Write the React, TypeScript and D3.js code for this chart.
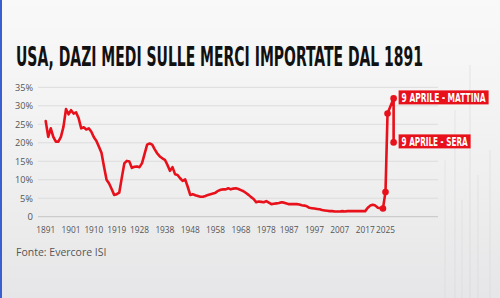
import React from "react";
import * as d3 from "d3";

const title = "USA, DAZI MEDI SULLE MERCI IMPORTATE DAL 1891";
const source = "Fonte: Evercore ISI";

const years = [
  1891, 1892, 1893, 1894, 1895, 1896, 1897, 1898, 1899, 1900,
  1901, 1902, 1903, 1904, 1905, 1906, 1907, 1908, 1909, 1910,
  1911, 1912, 1913, 1914, 1915, 1916, 1917, 1918, 1919, 1920,
  1921, 1922, 1923, 1924, 1925, 1926, 1927, 1928, 1929, 1930,
  1931, 1932, 1933, 1934, 1935, 1936, 1937, 1938, 1939, 1940,
  1941, 1942, 1943, 1944, 1945, 1946, 1947, 1948, 1949, 1950,
  1951, 1952, 1953, 1954, 1955, 1956, 1957, 1958, 1959, 1960,
  1961, 1962, 1963, 1964, 1965, 1966, 1967, 1968, 1969, 1970,
  1971, 1972, 1973, 1974, 1975, 1976, 1977, 1978, 1979, 1980,
  1981, 1982, 1983, 1984, 1985, 1986, 1987, 1988, 1989, 1990,
  1991, 1992, 1993, 1994, 1995, 1996, 1997, 1998, 1999, 2000,
  2001, 2002, 2003, 2004, 2005, 2006, 2007, 2008, 2009, 2010,
  2011, 2012, 2013, 2014, 2015, 2016, 2017, 2018, 2019, 2020,
  2021, 2022, 2023, 2024, 2025,
];
const tariffs = [
  25.9, 21.6, 23.9, 21.6, 20.3, 20.3, 21.6, 24.3, 29.1, 27.7,
  28.8, 27.9, 28.2, 26.6, 23.9, 24.2, 23.6, 23.9, 23.0, 21.5,
  20.5, 18.9, 17.3, 13.5, 10.0, 9.0, 7.5, 5.9, 6.1, 6.5,
  10.5, 14.4, 15.1, 14.9, 13.2, 13.5, 13.6, 13.4, 14.5, 17.0,
  19.5, 19.8, 19.5, 18.2, 17.1, 16.3, 15.8, 15.4, 14.0, 12.4,
  13.4, 11.5, 11.3, 10.4, 9.7, 10.1, 8.1, 5.9, 6.1, 5.8,
  5.6, 5.4, 5.4, 5.6, 5.9, 6.1, 6.3, 6.5, 7.0, 7.3,
  7.4, 7.4, 7.7, 7.4, 7.6, 7.7, 7.5, 7.2, 6.9, 6.4,
  5.9, 5.3, 4.8, 3.9, 4.1, 4.0, 3.9, 4.2, 3.8, 3.4,
  3.5, 3.6, 3.7, 3.9, 3.8, 3.6, 3.4, 3.4, 3.4, 3.4,
  3.3, 3.1, 3.0, 2.8, 2.4, 2.3, 2.2, 2.1, 2.0, 1.8,
  1.7, 1.6, 1.5, 1.5, 1.4, 1.4, 1.4, 1.5, 1.4, 1.5,
  1.5, 1.5, 1.5, 1.5, 1.5, 1.5, 1.5, 2.4, 3.0, 3.2,
  3.0, 2.4, 2.3, 2.2, 6.7,
];
// 2025 announcements (position on the time axis, tariff %)
const spikeX = [2025.8, 2028.2, 2028.2];
const spikeValues = [27.9, 32.0, 20.1];
const spikeLabels = ["", "9 APRILE - MATTINA", "9 APRILE - SERA"];

const xTickLabels = [1891, 1901, 1910, 1919, 1928, 1938, 1948, 1958, 1968, 1978, 1987, 1997, 2007, 2017, 2025];
const yTicks = [0, 5, 10, 15, 20, 25, 30, 35];

const W = 500;
const H = 298;
const RED = "#e8101a";

export default function App() {
  const x = d3.scaleLinear().domain([1891, 2025]).range([45.7, 385.5]);
  const y = d3.scaleLinear().domain([0, 35]).range([216.7, 87.3]);

  const pts: [number, number][] = years.map((yr, i) => [yr, tariffs[i]]);
  spikeX.forEach((sx, i) => pts.push([sx, spikeValues[i]]));

  const line = d3
    .line<[number, number]>()
    .x((d) => x(d[0]))
    .y((d) => y(d[1]));

  const dots = pts.slice(years.length - 2);
  const labelled = spikeX
    .map((sx, i) => ({ sx, v: spikeValues[i], label: spikeLabels[i] }))
    .filter((d) => d.label);

  const tickFont = "'Open Sans', 'Noto Sans', sans-serif";
  const condFont = "'Liberation Sans Narrow', 'DejaVu Sans Condensed', 'Roboto', sans-serif";

  const decoBars = [
    [470, 65, 0.35],
    [455, 110, 0.3],
    [490, 150, 0.3],
    [445, 160, 0.25],
    [478, 175, 0.3],
    [462, 200, 0.25],
  ];

  return (
    <svg
      width={W}
      height={H}
      style={{ position: "absolute", left: 0, top: 0, display: "block" }}
    >
      <defs>
        <linearGradient id="bg" x1="0" y1="0" x2="0" y2="1">
          <stop offset="0" stopColor="#f9f9f9" />
          <stop offset="0.6" stopColor="#efefef" />
          <stop offset="1" stopColor="#e6e6e8" />
        </linearGradient>
      </defs>
      <rect x={0} y={0} width={W} height={H} fill="url(#bg)" />
      {decoBars.map((b, i) => (
        <line
          key={i}
          x1={b[0]}
          x2={b[0]}
          y1={b[1]}
          y2={H}
          stroke="#c9ced6"
          strokeWidth={1.2}
          opacity={b[2]}
        />
      ))}
      <rect x={0} y={0} width={2} height={H} fill="#3b5fd0" />

      <text
        x={16}
        y={66}
        fontFamily={condFont}
        fontWeight="bold"
        fontSize={26}
        fill="#111"
        textLength={407}
        lengthAdjust="spacingAndGlyphs"
      >
        {title}
      </text>

      {yTicks.map((t) => (
        <g key={t}>
          <line x1={38} x2={438} y1={y(t)} y2={y(t)} stroke={t === 0 ? "#c4c4c4" : "#dcdcdc"} strokeWidth={1} />
          <text
            x={33}
            y={y(t)}
            dy="0.35em"
            textAnchor="end"
            fontFamily={tickFont}
            fontSize={9.5}
            fill="#555"
            textLength={t === 0 ? undefined : t < 10 ? 13 : 18}
            lengthAdjust="spacingAndGlyphs"
          >
            {t === 0 ? "0" : `${t}%`}
          </text>
        </g>
      ))}

      {xTickLabels.map((t) => (
        <text
          key={t}
          x={x(t)}
          y={230}
          dy="0.35em"
          textAnchor="middle"
          fontFamily={tickFont}
          fontSize={9.5}
          fill="#555"
          textLength={19}
          lengthAdjust="spacingAndGlyphs"
        >
          {t}
        </text>
      ))}

      <path
        d={line(pts) || ""}
        fill="none"
        stroke={RED}
        strokeWidth={2.6}
        strokeLinejoin="round"
        strokeLinecap="round"
      />
      {dots.map((d, i) => (
        <circle key={i} cx={x(d[0])} cy={y(d[1])} r={3.3} fill={RED} />
      ))}

      {labelled.map((d, i) => {
        const w = d.label.length > 16 ? 90 : 72;
        return (
          <g key={i} transform={`translate(${x(d.sx) + 5},${y(d.v) - 8})`}>
            <rect x={0} y={0} width={w} height={14} fill={RED} />
            <text
              x={3}
              y={11.3}
              fontFamily={condFont}
              fontWeight="bold"
              fontSize={12.5}
              fill="#fff"
              textLength={w - 6}
              lengthAdjust="spacingAndGlyphs"
            >
              {d.label}
            </text>
          </g>
        );
      })}

      <text x={16} y={252} dy="0.35em" fontFamily={tickFont} fontSize={10.5} fill="#555">
        {source}
      </text>
    </svg>
  );
}
